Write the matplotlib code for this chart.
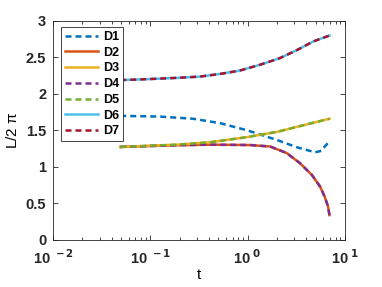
import numpy as np
import matplotlib.pyplot as plt

plt.rcParams['font.family'] = ['Liberation Sans', 'DejaVu Sans']
plt.rcParams['font.weight'] = 'bold'
plt.rcParams['mathtext.default'] = 'bf'

# values
t_up = [0.049, 0.084, 0.185, 0.32, 0.52, 0.83, 1.34, 2.14, 3.2, 4.74, 6.93]
L_up = [2.19, 2.20, 2.22, 2.237, 2.274, 2.32, 2.40, 2.49, 2.60, 2.72, 2.80]

t_d1 = [0.049, 0.125, 0.275, 0.52, 1.0, 1.99, 3.2, 4.94, 5.7, 6.2, 6.93]
L_d1 = [1.70, 1.69, 1.66, 1.60, 1.50, 1.37, 1.27, 1.20, 1.22, 1.28, 1.35]

t_d3 = [0.049, 0.185, 0.41, 1.0, 2.0, 3.7, 6.93]
L_d3 = [1.274, 1.305, 1.338, 1.41, 1.48, 1.57, 1.66]

t_d2 = [0.049, 0.185, 0.41, 1.06, 1.7, 2.52, 3.46, 4.57, 5.56, 6.2, 6.7, 6.93]
L_d2 = [1.274, 1.297, 1.305, 1.30, 1.28, 1.19, 1.05, 0.89, 0.73, 0.59, 0.46, 0.34]

names = ['D1', 'D2', 'D3', 'D4', 'D5', 'D6', 'D7']
colors = ['#0072BD', '#D95319', '#EDB120', '#7E2F8E', '#77AC30', '#4DBEEE', '#A2142F']
series = [(t_d1, L_d1), (t_d2, L_d2), (t_d3, L_d3), (t_d2, L_d2),
          (t_d3, L_d3), (t_up, L_up), (t_up, L_up)]
dashed = [True, False, False, True, True, False, True]

fig = plt.figure(figsize=(3.82, 2.87), dpi=100)
ax = fig.add_axes([0.139, 0.164, 0.764, 0.763])
for (nm, c, (x, y), d) in zip(names, colors, series, dashed):
    ln, = ax.plot(x, y, color=c, lw=1.8, label=nm)
    if d:
        ln.set_dashes((2.4, 1.6))

ax.set_xscale('log')
ax.set_xlim(1e-2, 1e1)
ax.set_ylim(0, 3)
ax.set_xticks([1e-2, 1e-1, 1e0, 1e1])
ax.set_xticklabels(['10$^{\\ -2}$', '10$^{\\ -1}$', '10$^{\\ 0}$', '10$^{\\ 1}$'])
ax.set_yticks(np.arange(0, 3.01, 0.5))
ax.set_yticklabels(['0', '0.5', '1', '1.5', '2', '2.5', '3'])
ax.tick_params(which='both', direction='in', top=True, right=True,
               labelsize=10.5, colors='#262626', width=0.6)
ax.tick_params(axis='x', pad=6)
ax.tick_params(axis='y', pad=5)
ax.tick_params(which='major', length=3.5)
ax.tick_params(which='minor', length=2)
for s in ax.spines.values():
    s.set_color('#262626')
    s.set_linewidth(0.6)
ax.set_xlabel('t', fontsize=11, labelpad=1)
ax.set_ylabel('L/2 $\\mathregular{\\pi}$', fontsize=11, labelpad=4)

leg = ax.legend(loc='upper left', fontsize=9, handlelength=2.7,
                labelspacing=0.3, borderpad=0.3, handletextpad=0.35,
                fancybox=False, framealpha=1, bbox_to_anchor=(0.005, 1.0))
leg.get_frame().set_edgecolor('#262626')
leg.get_frame().set_linewidth(0.6)

fig.savefig('out.png', dpi=100)
